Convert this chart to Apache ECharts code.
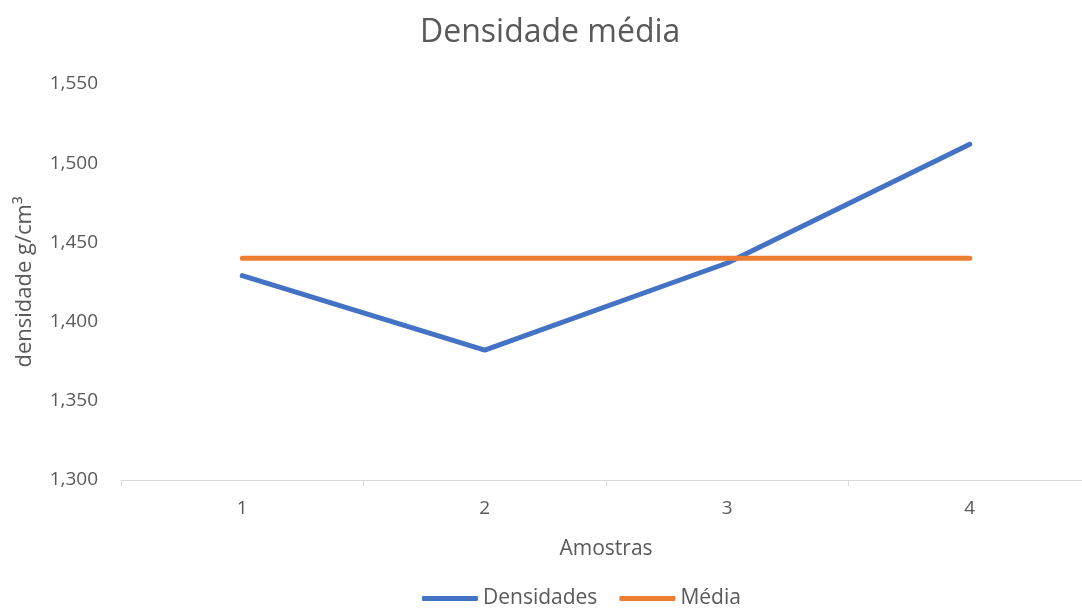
<!DOCTYPE html>
<html>
<head>
<meta charset="utf-8">
<script src="https://cdn.jsdelivr.net/npm/echarts@6/dist/echarts.min.js"></script>
<style>
  html, body { margin: 0; padding: 0; background: #ffffff; }
  #chart { width: 1082px; height: 608px; }
</style>
</head>
<body>
<div id="chart"></div>
<script>
// Sample numbers on the category axis
const amostras = ['1', '2', '3', '4'];
// Measured density of each sample (g/cm³)
const densidades = [1.429, 1.382, 1.437, 1.512];
// Mean density, repeated across every sample
const media = [1.440, 1.440, 1.440, 1.440];
// Value-axis range and step
const yMin = 1.3;
const yMax = 1.55;
const yStep = 0.05;

const textColor = '#595959';
const fontFamily = '"Open Sans", "Noto Sans", sans-serif';

const chart = echarts.init(document.getElementById('chart'), null, { renderer: 'canvas' });

chart.setOption({
  backgroundColor: '#ffffff',
  animation: false,
  title: {
    text: 'Densidade média',
    left: 415,
    top: 12,
    textStyle: { color: textColor, fontSize: 32, fontWeight: 'normal', fontFamily }
  },
  legend: {
    bottom: -6,
    left: 417,
    itemWidth: 56,
    itemHeight: 5,
    itemGap: 22,
    icon: 'roundRect',
    textStyle: { color: textColor, fontSize: 21, fontFamily },
    data: ['Densidades', 'Média']
  },
  // plot area runs slightly past the right edge of the canvas
  grid: { left: 121, right: -9, top: 84, bottom: 128, containLabel: false, outerBoundsMode: 'none' },
  xAxis: {
    type: 'category',
    data: amostras,
    boundaryGap: true,
    name: 'Amostras',
    nameLocation: 'middle',
    nameGap: 59,
    nameTextStyle: { color: textColor, fontSize: 21, fontFamily },
    axisLine: { show: true, lineStyle: { color: '#d9d9d9', width: 1 } },
    axisTick: { show: true, length: 6, lineStyle: { color: '#d9d9d9' } },
    axisLabel: { color: textColor, fontSize: 19, fontFamily, margin: 19 },
    splitLine: { show: false }
  },
  yAxis: {
    type: 'value',
    min: yMin,
    max: yMax,
    interval: yStep,
    name: 'densidade g/cm³',
    nameLocation: 'middle',
    nameGap: 85,
    nameTextStyle: { color: textColor, fontSize: 22, fontFamily },
    axisLine: { show: false },
    axisTick: { show: false },
    splitLine: { show: false },
    axisLabel: {
      color: textColor,
      fontSize: 19,
      fontFamily,
      margin: 23,
      formatter: v => v.toFixed(3).replace('.', ',')
    }
  },
  series: [
    {
      name: 'Densidades',
      type: 'line',
      data: densidades,
      symbol: 'none',
      lineStyle: { color: '#4472C4', width: 5, cap: 'round', join: 'round' },
      itemStyle: { color: '#4472C4' }
    },
    {
      name: 'Média',
      type: 'line',
      data: media,
      symbol: 'none',
      lineStyle: { color: '#ED7D31', width: 5, cap: 'round', join: 'round' },
      itemStyle: { color: '#ED7D31' }
    }
  ]
});
</script>
</body>
</html>
